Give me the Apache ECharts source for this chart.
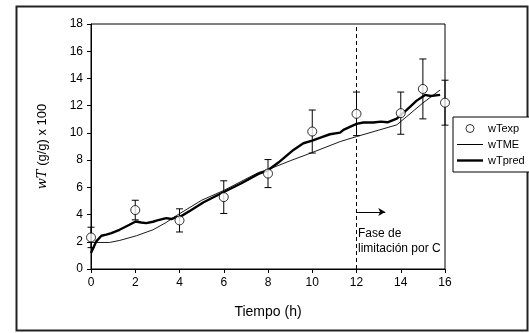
<!DOCTYPE html>
<html>
<head>
<meta charset="utf-8">
<script src="https://cdn.jsdelivr.net/npm/echarts@6/dist/echarts.min.js"></script>
<style>
html,body{margin:0;padding:0;background:#fff;}
#c{width:529px;height:333px;}
</style>
</head>
<body>
<div id="c"></div>
<script>
// Experimental points (wTexp) with error bars
const expX = [0, 2, 4, 6, 8, 10, 12, 14, 15, 16];
const expY = [2.32, 4.33, 3.57, 5.28, 7.01, 10.1, 11.4, 11.45, 13.23, 12.22];
const expErr = [0.75, 0.72, 0.85, 1.2, 1.03, 1.58, 1.6, 1.55, 2.2, 1.65];

// Model wTME (thin line)
const meX = [0, 0.84, 1.3, 2.05, 2.8, 3.4, 3.85, 5.0, 6.0, 7.57, 8.0, 9.0, 10.0, 11.26, 12.0, 13.0, 13.82, 14.27, 15.0, 15.78];
const meY = [1.95, 1.95, 2.1, 2.44, 2.88, 3.42, 3.91, 5.05, 5.77, 7.09, 7.3, 7.95, 8.56, 9.36, 9.73, 10.2, 10.59, 11.2, 12.2, 13.15];

// Prediction wTpred (thick line)
const predX = [0, 0.24, 0.47, 0.69, 0.92, 1.29, 1.74, 2.02, 2.27, 2.5, 2.8, 3.0, 3.4, 3.63, 3.85, 4.0, 4.5, 5.09, 5.96, 6.8, 7.57, 8.0, 8.47, 9.15, 9.6, 10.0, 10.43, 10.8, 11.26, 11.41, 12.0, 12.31, 12.76, 13.1, 13.4, 13.82, 14.27, 14.72, 15.1, 15.35, 15.78];
const predY = [1.17, 2.03, 2.44, 2.52, 2.64, 2.88, 3.25, 3.49, 3.42, 3.37, 3.47, 3.57, 3.74, 3.67, 3.81, 3.81, 4.3, 4.9, 5.62, 6.3, 6.99, 7.25, 7.82, 8.75, 9.24, 9.43, 9.68, 9.9, 10.02, 10.22, 10.66, 10.76, 10.76, 10.83, 10.78, 11.05, 11.69, 12.37, 12.79, 12.71, 12.79];

// Axis ticks
const xTicks = {min: 0, max: 16, interval: 2};
const yTicks = {min: 0, max: 18, interval: 2};

// Annotation
const phaseStart = 12;
const arrowEnd = 13.3;
const arrowY = 4.19;
const annotation = ['Fase de', 'limitación por C'];

const FONT = '"Liberation Sans", Arial, sans-serif';
const chart = echarts.init(document.getElementById('c'));

const expData = expX.map((x, i) => [x, expY[i]]);
const errData = expX.map((x, i) => [x, expY[i] - expErr[i], expY[i] + expErr[i]]);
const meData = meX.map((x, i) => [x, meY[i]]);
const predData = predX.map((x, i) => [x, predY[i]]);

chart.setOption({
  animation: false,
  backgroundColor: '#fff',
  textStyle: {fontFamily: FONT, color: '#000'},
  grid: {left: 91, right: 84, top: 24, bottom: 64, show: true, borderColor: '#000', borderWidth: 1, backgroundColor: 'transparent'},
  xAxis: {
    type: 'value', min: xTicks.min, max: xTicks.max, interval: xTicks.interval,
    name: 'Tiempo (h)', nameLocation: 'middle', nameGap: 36,
    nameTextStyle: {fontSize: 14, color: '#000', fontFamily: FONT},
    axisLine: {lineStyle: {color: '#000', width: 1}},
    axisTick: {show: true, inside: false, length: 4, lineStyle: {color: '#000'}},
    axisLabel: {fontSize: 12, color: '#000', margin: 8, fontFamily: FONT},
    splitLine: {show: false}
  },
  yAxis: {
    type: 'value', min: yTicks.min, max: yTicks.max, interval: yTicks.interval,
    name: '{i|wT} (g/g) x 100', nameLocation: 'middle', nameGap: 42, nameRotate: 90,
    nameTextStyle: {fontSize: 13, color: '#000', fontFamily: FONT,
      rich: {i: {fontFamily: '"DejaVu Serif", "Liberation Serif", serif', fontStyle: 'italic', fontSize: 13, color: '#000'}}},
    axisLine: {show: true, lineStyle: {color: '#000', width: 1}},
    axisTick: {show: true, inside: false, length: 4, lineStyle: {color: '#000'}},
    axisLabel: {fontSize: 12, color: '#000', margin: 8, fontFamily: FONT},
    splitLine: {show: false}
  },
  legend: {
    orient: 'vertical', left: 453, top: 117,
    padding: [5, 8, 5, 4], itemGap: 3, itemWidth: 26, itemHeight: 8,
    borderColor: '#000', borderWidth: 1, backgroundColor: '#fff',
    textStyle: {fontSize: 11, color: '#000', fontFamily: FONT, lineHeight: 13},
    data: [
      {name: 'wTexp', icon: 'circle', itemStyle: {color: '#fff', borderColor: '#000', borderWidth: 1}},
      {name: 'wTME', icon: 'path://M0,0H26V1H0Z', itemStyle: {color: '#000', borderWidth: 0}},
      {name: 'wTpred', icon: 'path://M0,0H26V2.4H0Z', itemStyle: {color: '#000', borderWidth: 0}}
    ]
  },
  series: [
    {
      name: 'wTME', type: 'line', data: meData, showSymbol: false, symbol: 'none',
      lineStyle: {color: '#000', width: 0.9}, itemStyle: {color: '#000'}, z: 3,
      markLine: {
        silent: true, symbol: ['none', 'none'], label: {show: false},
        lineStyle: {color: '#000', type: [4, 3], width: 1},
        data: [{xAxis: phaseStart}]
      }
    },
    {
      name: 'wTpred', type: 'line', data: predData, showSymbol: false, symbol: 'none',
      lineStyle: {color: '#000', width: 2.4}, itemStyle: {color: '#000'}, z: 4,
      markLine: {
        silent: true, symbol: ['none', 'arrow'], symbolSize: [6, 7], label: {show: false},
        lineStyle: {color: '#000', type: 'solid', width: 1},
        data: [[{coord: [phaseStart, arrowY]}, {coord: [arrowEnd, arrowY]}]]
      }
    },
    {
      name: 'err', type: 'custom', z: 5,
      renderItem: function (params, api) {
        const x = api.value(0);
        const lo = api.coord([x, api.value(1)]);
        const hi = api.coord([x, api.value(2)]);
        const hw = 3.5;
        const st = {stroke: '#000', lineWidth: 1, fill: null};
        return {type: 'group', children: [
          {type: 'line', shape: {x1: lo[0], y1: lo[1], x2: hi[0], y2: hi[1]}, style: st},
          {type: 'line', shape: {x1: lo[0] - hw, y1: lo[1], x2: lo[0] + hw, y2: lo[1]}, style: st},
          {type: 'line', shape: {x1: hi[0] - hw, y1: hi[1], x2: hi[0] + hw, y2: hi[1]}, style: st}
        ]};
      },
      encode: {x: 0, y: [1, 2]},
      data: errData
    },
    {
      name: 'wTexp', type: 'scatter', data: expData, symbol: 'circle', symbolSize: 9, z: 6,
      itemStyle: {color: '#fff', borderColor: '#000', borderWidth: 1}
    }
  ],
  graphic: [
    {type: 'rect', left: 14, top: 4, shape: {width: 511, height: 324}, style: {fill: 'none', stroke: '#222', lineWidth: 2}, silent: true, z: 0},
    {type: 'text', left: 358, top: 226, style: {text: annotation.join('\n'), font: '12px ' + FONT, fill: '#000', lineHeight: 15}, z: 10}
  ]
});
</script>
</body>
</html>
